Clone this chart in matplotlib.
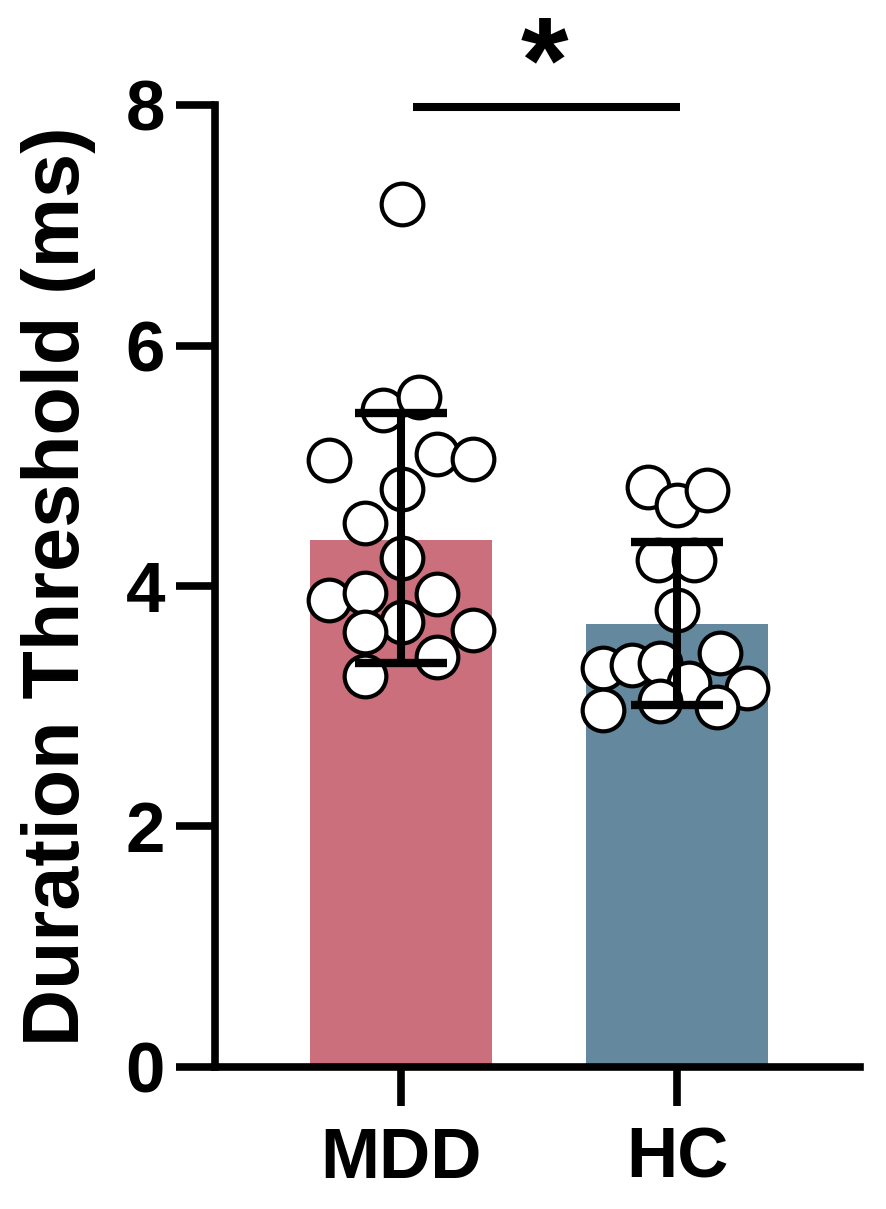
import matplotlib.pyplot as plt

groups = ["MDD", "HC"]
means = [4.38, 3.68]
err_low = [3.36, 3.01]
err_high = [5.44, 4.37]
colors = ["#CB6F7C", "#64899E"]

mdd_x = [0.003, -0.065, 0.065, -0.26, 0.13, 0.26, 0.003, -0.13, 0.003,
         -0.26, -0.13, 0.13, 0.003, -0.13, 0.26, 0.13, -0.13]
mdd_y = [7.18, 5.46, 5.57, 5.05, 5.10, 5.06, 4.81, 4.52, 4.23,
         3.88, 3.94, 3.93, 3.70, 3.62, 3.63, 3.41, 3.25]
hc_x = [-0.105, 0.0, 0.11, -0.07, 0.06, 0.0, -0.27, -0.165, -0.06,
        0.155, 0.045, 0.255, -0.27, -0.06, 0.145]
hc_y = [4.82, 4.67, 4.80, 4.22, 4.22, 3.80, 3.32, 3.34, 3.36,
        3.44, 3.19, 3.15, 2.97, 3.04, 2.99]

plt.rcParams['font.family'] = ['Liberation Sans', 'DejaVu Sans']
plt.rcParams['font.weight'] = 'bold'

fig = plt.figure(figsize=(8.86, 12.09), dpi=100)
ax = fig.add_axes([0.2427, 0.1175, 0.728, 0.7956])

pos = [0, 1]
ax.bar(pos, means, width=0.66, color=colors, zorder=1)

ax.scatter(mdd_x, mdd_y, s=900, facecolor='white', edgecolor='black', linewidths=3, zorder=2)
ax.scatter([1 + v for v in hc_x], hc_y, s=900, facecolor='white', edgecolor='black', linewidths=3, zorder=2)

for i in range(2):
    ax.errorbar(pos[i], means[i],
                yerr=[[means[i] - err_low[i]], [err_high[i] - means[i]]],
                fmt='none', ecolor='black', elinewidth=5.8, capsize=33, capthick=6, zorder=3)

# significance line + star
ax.plot([0.045, 1.01], [7.98, 7.98], color='black', lw=5.8, clip_on=False, solid_capstyle='butt')
ax.text(0.52, 8.03, '*', ha='center', va='baseline', fontsize=88, fontweight='bold')

ax.set_ylim(0, 8)
ax.set_xlim(-0.674, 1.663)
ax.set_yticks([0, 2, 4, 6, 8])
ax.set_xticks(pos)
ax.set_xticklabels(groups)
ax.set_ylabel('Duration Threshold (ms)', fontsize=57, fontweight='bold')
ax.yaxis.set_label_coords(-0.184, 0.5)
ax.tick_params(axis='both', labelsize=51, width=5.5, length=28)
ax.tick_params(axis='y', pad=8)
ax.tick_params(axis='x', pad=15)

for s in ['top', 'right']:
    ax.spines[s].set_visible(False)
for s in ['left', 'bottom']:
    ax.spines[s].set_linewidth(5.5)

fig.savefig('out.png', dpi=100)
